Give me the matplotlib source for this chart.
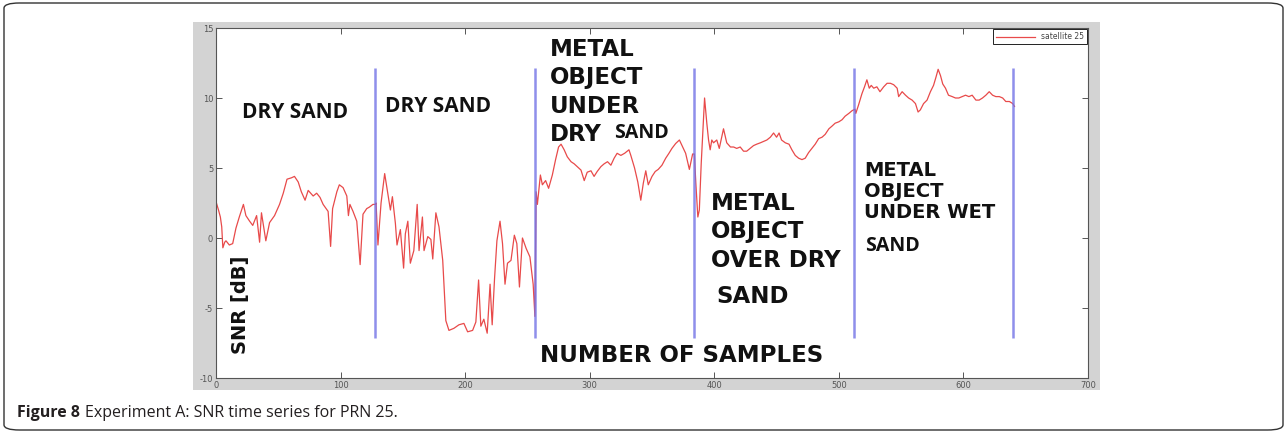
import matplotlib
matplotlib.use('Agg')
import matplotlib.pyplot as plt
from matplotlib.patches import Rectangle, FancyBboxPatch

plt.rcParams['axes.unicode_minus'] = False

# sample index / SNR [dB]
samples = [0, 2, 3.5, 4.6, 5.5, 7, 8, 10.7, 13.4, 16, 18.7, 22, 24, 27, 29.5, 32.6, 35, 36.5, 40,
           43, 47, 51, 54, 57, 60.6, 63, 66, 68.5, 71.5, 74, 78, 80.8, 83.5, 86, 90, 92, 93.6, 97,
           99, 102, 105, 106.3, 107.5, 110, 113, 115.7, 118, 121, 123, 126, 128,
           128.5, 130, 132.5, 135.4, 137, 140, 141.6, 144, 145.3, 148, 150.6, 152, 154, 156, 158.8,
           161.5, 163, 165.7, 167, 170, 172.5, 174, 176.5, 179, 182, 184.5, 187, 191, 195, 199, 202,
           206, 208.6, 210.8, 212.6, 215, 217.7, 220, 221.7, 223.6, 225.5, 228, 230, 232, 234, 236.8,
           239.5, 241.5, 243.6, 246, 249, 252, 254.6, 256,
           257, 258, 260.4, 262, 264.6, 267, 270, 272.6, 275, 277, 279.5, 282, 285, 287.5, 290, 293,
           295.6, 298, 301, 303.5, 306, 309, 311.6, 314.3, 317, 319.6, 322, 325, 328, 331.5, 333,
           336, 338.6, 341, 343, 345, 347, 350, 352.6, 355, 358, 361, 363.6, 366, 369, 372, 374.6,
           377, 380, 382.6, 384,
           385.2, 386.8, 388, 389.5, 392.2, 394, 395.4, 396.7, 398, 399.4, 402, 404, 407.4, 410, 413,
           415.5, 418, 420.8, 423.5, 426, 428.8, 431.5, 434, 437, 439.5, 442.2, 445, 447.6, 450, 452,
           454, 457, 460, 462.3, 465, 467.7, 470.4, 473, 475.7, 478.4, 481, 483.8, 486.5, 489, 492,
           494.6, 497, 500, 502.6, 505, 508, 510.7, 513,
           513.6, 515.8, 518.5, 520.6, 522.5, 524.4, 526, 528, 530.5, 533, 536, 538.7, 541.4, 544,
           546.8, 548, 550.8, 553.5, 556, 558.8, 561.5, 563.6, 565.4, 568, 570.8, 573.5, 576, 578,
           579.7, 581.6, 583.4, 585.6, 588, 591, 593.6, 596.3, 599, 601.7, 604.4, 607, 610, 612.6,
           615.3, 618, 620.7, 623.4, 626, 628.8, 631.5, 634, 636.9, 639.6, 641]
snr = [2.6, 2.0, 1.5, 0.8, -0.7, -0.3, -0.2, -0.5, -0.4, 0.7, 1.5, 2.4, 1.6, 1.2, 0.9, 1.6, -0.3, 1.8,
       -0.2, 1.1, 1.6, 2.4, 3.2, 4.2, 4.3, 4.4, 4.0, 3.3, 2.7, 3.4, 3.0, 3.2, 2.9, 2.4, 1.9, -0.6,
       2.1, 3.3, 3.8, 3.6, 3.0, 1.6, 2.4, 1.9, 1.2, -1.9, 1.7, 2.1, 2.2, 2.4, 2.4,
       2.5, -0.5, 2.5, 4.6, 3.7, 2.0, 2.95, 1.05, -0.5, 0.6, -2.15, 0.3, 1.2, -1.8, -0.9, 2.4, -0.9,
       1.5, -0.9, 0.1, -0.1, -1.5, 1.8, 0.8, -1.6, -5.9, -6.6, -6.45, -6.2, -6.1, -6.7, -6.6, -6.0,
       -3.0, -6.3, -5.8, -6.8, -3.3, -6.2, -2.9, -0.2, 1.2, -0.4, -3.3, -1.8, -1.6, 0.2, -0.4, -3.5,
       0.0, -0.75, -1.35, -3.3, -5.6,
       3.3, 2.4, 4.5, 3.8, 4.1, 3.55, 4.5, 5.6, 6.5, 6.7, 6.3, 5.8, 5.45, 5.3, 5.1, 4.85, 4.1, 4.7,
       4.8, 4.4, 4.75, 5.1, 5.3, 5.45, 5.2, 5.7, 6.05, 5.9, 6.05, 6.3, 5.9, 5.0, 4.0, 2.7, 3.9, 4.8,
       3.8, 4.4, 4.75, 4.9, 5.2, 5.7, 6.05, 6.4, 6.75, 7.0, 6.5, 6.05, 4.9, 6.0, 6.0,
       3.9, 1.5, 2.0, 5.3, 10.0, 8.2, 7.0, 6.3, 7.0, 6.8, 7.0, 6.4, 7.8, 6.8, 6.5, 6.5, 6.4, 6.5,
       6.2, 6.2, 6.4, 6.6, 6.7, 6.8, 6.9, 7.0, 7.2, 7.5, 7.2, 7.5, 7.0, 6.8, 6.7, 6.3, 5.9, 5.7,
       5.6, 5.7, 6.1, 6.4, 6.7, 7.1, 7.2, 7.4, 7.8, 8.0, 8.2, 8.3, 8.45, 8.7, 8.9, 9.1, 9.2,
       8.9, 9.5, 10.3, 10.8, 11.3, 10.7, 10.9, 10.7, 10.8, 10.45, 10.8, 11.05, 11.05, 10.95, 10.7,
       10.1, 10.45, 10.2, 10.0, 9.85, 9.6, 9.0, 9.15, 9.6, 9.85, 10.45, 10.9, 11.5, 12.05, 11.6,
       11.0, 10.7, 10.2, 10.1, 10.0, 10.0, 10.1, 10.2, 10.1, 10.2, 9.85, 9.85, 10.0, 10.2, 10.45,
       10.2, 10.1, 10.1, 10.0, 9.75, 9.75, 9.6, 9.4]
boundaries = [128, 256, 384, 512, 640]
x_ticks = [0, 100, 200, 300, 400, 500, 600, 700]
y_ticks = [-10, -5, 0, 5, 10, 15]

W, H = 1287, 433
fig = plt.figure(figsize=(W / 100, H / 100), dpi=100)
fig.patch.set_facecolor('white')

# matlab-ish grey figure background behind the axes
fig.patches.append(Rectangle((193 / W, 1 - 390 / H), (1100 - 193) / W, (390 - 22) / H,
                             transform=fig.transFigure, facecolor='#d3d3d3',
                             edgecolor='none', zorder=-2))
# rounded frame of the journal figure
fig.patches.append(FancyBboxPatch((4 / W, 3 / H), (1283 - 4) / W, (430 - 3) / H,
                                  boxstyle='round,pad=0,rounding_size=0.012',
                                  transform=fig.transFigure, facecolor='none',
                                  edgecolor='#333333', linewidth=1.0, zorder=-1))

ax = fig.add_axes([216 / W, 1 - 378 / H, (1088 - 216) / W, (378 - 28) / H])
ax.set_facecolor('white')

ax.plot(samples, snr, color='#e84a4a', linewidth=0.9, label='satellite 25')
ax.vlines(boundaries, -7.15, 12.15, color='#7373e6', linewidth=1.8, alpha=0.8, zorder=3)

ax.set_xlim(0, 700)
ax.set_ylim(-10, 15)
ax.set_xticks(x_ticks)
ax.set_yticks(y_ticks)
ax.tick_params(direction='in', length=4, width=0.7, top=True, right=True,
               labelsize=6, labelcolor='#555555', color='#555555', pad=2)
for s in ax.spines.values():
    s.set_color('#555555')
    s.set_linewidth(0.8)

leg = ax.legend(loc='upper right', fontsize=5.5, handlelength=5, fancybox=False,
                framealpha=1, edgecolor='#222222', borderaxespad=0.15, borderpad=0.4)
leg.get_frame().set_linewidth(0.7)
for t in leg.get_texts():
    t.set_color('#444444')

bold_a = dict(family='DejaVu Sans', weight='bold', color='#111111', va='center', ha='left')
bold_c = dict(family='Open Sans', weight='bold', color='#111111', va='center', ha='left')

ax.text(20.9, 8.93, 'DRY SAND', fontsize=15, **bold_c)
ax.text(135.6, 9.36, 'DRY SAND', fontsize=15, **bold_c)

ax.text(268, 13.5, 'METAL', fontsize=16.5, **bold_a)
ax.text(268, 11.43, 'OBJECT', fontsize=16.5, **bold_a)
ax.text(268, 9.36, 'UNDER', fontsize=16.5, **bold_a)
ax.text(268, 7.36, 'DRY', fontsize=16.5, **bold_a)
ax.text(319.4, 7.5, 'SAND', fontsize=14, **bold_c)

ax.text(397.3, 2.5, 'METAL', fontsize=16.5, **bold_a)
ax.text(397.3, 0.43, 'OBJECT', fontsize=16.5, **bold_a)
ax.text(397.3, -1.64, 'OVER DRY', fontsize=16.5, **bold_a)
ax.text(401.3, -4.21, 'SAND', fontsize=16.5, **bold_a)

ax.text(520, 4.79, 'METAL', fontsize=14, **bold_a)
ax.text(520, 3.32, 'OBJECT', fontsize=14, **bold_a)
ax.text(520, 1.79, 'UNDER WET', fontsize=14, **bold_a)
ax.text(520.9, -0.57, 'SAND', fontsize=14, **bold_c)

ax.text(260, -8.39, 'NUMBER OF SAMPLES', fontsize=16.5, **bold_a)
ax.text(20, -4.79, 'SNR [dB]', fontsize=14, rotation=90, ha='center', va='center',
        family='DejaVu Sans', weight='bold', color='#111111')

# caption
cap_y = 1 - 413 / H
t1 = fig.text(17 / W, cap_y, 'Figure 8', fontsize=11.5, family='Open Sans', weight='bold',
              color='#231f20', va='center')
fig.canvas.draw()
bb = t1.get_window_extent(renderer=fig.canvas.get_renderer())
fig.text(bb.x1 / W + 5 / W, cap_y, 'Experiment A: SNR time series for PRN 25.',
         fontsize=11.5, family='Open Sans', color='#231f20', va='center')

plt.savefig('out.png', dpi=100)
plt.close()
